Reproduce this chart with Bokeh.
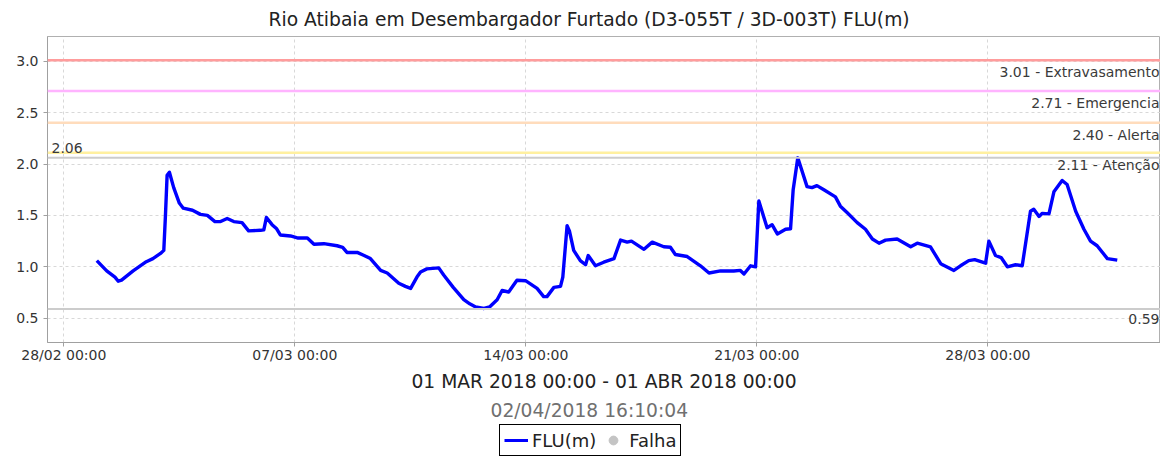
import pandas as pd
from bokeh.plotting import figure
from bokeh.layouts import column
from bokeh.models import (Span, Label, FixedTicker, DatetimeTickFormatter, Range1d,
                          Title, Legend, LegendItem, NumeralTickFormatter)
from bokeh.embed import file_html
from bokeh.resources import INLINE

# ---------------- data ----------------
start_date = "2018-03-01"
# days since 01/03/2018 00:00
days = [0.00, 0.30, 0.55, 0.65, 0.75, 1.10, 1.50, 1.70, 1.93, 2.03, 2.08, 2.13, 2.20, 2.33, 2.50,
        2.62, 2.90, 3.14, 3.35, 3.58, 3.75, 3.95, 4.15, 4.40, 4.60, 4.96, 5.06, 5.14, 5.31, 5.45,
        5.56, 5.87, 6.10, 6.38, 6.58, 6.88, 7.28, 7.45, 7.58, 7.89, 8.10, 8.29, 8.60, 8.80, 9.15,
        9.35, 9.51, 9.70, 9.81, 10.00, 10.36, 10.51, 10.80, 11.12, 11.30, 11.48, 11.73, 11.90, 12.13, 12.28,
        12.48, 12.73, 12.99, 13.34, 13.54, 13.64, 13.85, 14.05, 14.12, 14.25, 14.32, 14.45, 14.65, 14.81, 14.89,
        15.11, 15.36, 15.67, 15.87, 16.07, 16.20, 16.58, 16.83, 17.18, 17.38, 17.53, 17.89, 18.29, 18.55, 18.90,
        19.30, 19.50, 19.61, 19.81, 19.96, 20.06, 20.31, 20.46, 20.62, 20.87, 21.02, 21.10, 21.24, 21.52, 21.67,
        21.82, 22.03, 22.38, 22.53, 22.74, 23.04, 23.29, 23.50, 23.70, 23.90, 24.25, 24.66, 24.86, 25.26, 25.57,
        25.97, 26.17, 26.42, 26.60, 26.93, 27.03, 27.23, 27.40, 27.59, 27.84, 28.04, 28.29, 28.39, 28.55, 28.65,
        28.85, 29.00, 29.25, 29.40, 29.66, 29.91, 30.11, 30.31, 30.62, 30.92]
flu_m = [1.06, 0.96, 0.90, 0.86, 0.87, 0.96, 1.05, 1.08, 1.13, 1.16, 1.50, 1.89, 1.92, 1.77, 1.62,
         1.57, 1.55, 1.51, 1.50, 1.44, 1.44, 1.47, 1.44, 1.43, 1.35, 1.355, 1.36, 1.48, 1.41, 1.37,
         1.31, 1.30, 1.28, 1.28, 1.22, 1.225, 1.205, 1.19, 1.14, 1.14, 1.11, 1.08, 0.965, 0.94, 0.84,
         0.81, 0.79, 0.90, 0.95, 0.98, 0.99, 0.92, 0.80, 0.68, 0.64, 0.61, 0.595, 0.61, 0.68, 0.77,
         0.755, 0.87, 0.865, 0.79, 0.71, 0.71, 0.80, 0.81, 0.90, 1.40, 1.35, 1.16, 1.06, 1.02, 1.11,
         1.01, 1.045, 1.08, 1.26, 1.24, 1.25, 1.17, 1.24, 1.195, 1.19, 1.12, 1.10, 1.01, 0.94, 0.96,
         0.96, 0.965, 0.93, 1.01, 1.00, 1.64, 1.38, 1.41, 1.32, 1.365, 1.37, 1.75, 2.06, 1.78, 1.77,
         1.79, 1.75, 1.68, 1.59, 1.525, 1.43, 1.365, 1.27, 1.23, 1.26, 1.27, 1.195, 1.23, 1.195, 1.03,
         0.965, 1.01, 1.06, 1.07, 1.035, 1.25, 1.11, 1.09, 1.00, 1.02, 1.01, 1.54, 1.56, 1.49, 1.52,
         1.515, 1.73, 1.84, 1.80, 1.54, 1.365, 1.25, 1.205, 1.08, 1.065]

threshold_values = [3.01, 2.71, 2.40, 2.11]
threshold_names = ["Extravasamento", "Emergencia", "Alerta", "Atenção"]
threshold_colors = ["#ff9c9c", "#ffb4ff", "#ffdcbc", "#fff0a0"]
max_value = 2.06
min_value = 0.59

x_tick_dates = ["2018-02-28", "2018-03-07", "2018-03-14", "2018-03-21", "2018-03-28"]
y_ticks = [0.5, 1.0, 1.5, 2.0, 2.5, 3.0]

title_text = "Rio Atibaia em Desembargador Furtado (D3-055T / 3D-003T) FLU(m)"
period_text = "01 MAR 2018 00:00 - 01 ABR 2018 00:00"
stamp_text = "02/04/2018 16:10:04"
legend_labels = ["FLU(m)", "Falha"]

# ---------------- helpers ----------------
EPOCH = pd.Timestamp("1970-01-01")


def to_ms(ts):
    return (pd.Timestamp(ts) - EPOCH) / pd.Timedelta(milliseconds=1)


t0 = pd.Timestamp(start_date)
times = [t0 + pd.Timedelta(days=d) for d in days]
x_start = to_ms(t0 - pd.Timedelta(days=1.494))
x_end = to_ms(t0 + pd.Timedelta(days=32.23))

FONT = "DejaVu Sans"
LINE_COLOR = "#0000ff"
FALHA_COLOR = "#c4c4c4"

p = figure(width=1160, height=424, x_axis_type="datetime", output_backend="svg",
           toolbar_location=None, min_border_left=47, min_border_right=0,
           min_border_top=36, min_border_bottom=82,
           x_range=Range1d(x_start, x_end), y_range=Range1d(0.264, 3.240))

p.title.text = title_text
p.title.align = "left"
p.title.offset = 221
p.title.text_font = FONT
p.title.text_font_size = "18.7px"
p.title.text_font_style = "normal"
p.title.text_color = "#222222"
p.title.standoff = 13

p.outline_line_color = "#b0b0b0"
p.outline_line_width = 1
p.background_fill_color = "white"
p.border_fill_color = "white"

# grids
for g in (p.xgrid, p.ygrid):
    g.grid_line_color = "#d8d8d8"
    g.grid_line_dash = "3 3"
    g.grid_line_width = 1

# axes
p.yaxis.ticker = FixedTicker(ticks=y_ticks)
p.yaxis.formatter = NumeralTickFormatter(format="0.0")
p.xaxis.ticker = FixedTicker(ticks=[to_ms(d) for d in x_tick_dates])
fmt = "%d/%m %H:%M"
p.xaxis.formatter = DatetimeTickFormatter(days=fmt, months=fmt, hours=fmt, years=fmt,
                                          hourmin=fmt, minutes=fmt)
for ax in (p.xaxis, p.yaxis):
    ax.axis_line_color = "#a0a0a0"
    ax.major_tick_line_color = "#a0a0a0"
    ax.major_tick_out = 4
    ax.major_tick_in = 0
    ax.minor_tick_out = 0
    ax.minor_tick_in = 0
    ax.major_label_text_font = FONT
    ax.major_label_text_font_size = "14px"
    ax.major_label_text_color = "#333333"
p.xaxis.major_label_standoff = 0
p.yaxis.major_label_standoff = 5

p.xaxis.axis_label = period_text
p.xaxis.axis_label_text_font = FONT
p.xaxis.axis_label_text_font_size = "18.7px"
p.xaxis.axis_label_text_font_style = "normal"
p.xaxis.axis_label_text_color = "#222222"
p.xaxis.axis_label_standoff = 5

# threshold lines + labels
for v, name, c in zip(threshold_values, threshold_names, threshold_colors):
    p.add_layout(Span(location=v, dimension="width", line_color=c, line_width=2.5))
    p.add_layout(Label(x=x_end, y=v, text=f"{v:.2f} - {name}", text_align="right",
                       text_baseline="top", x_offset=-1, y_offset=-4,
                       text_font=FONT, text_font_size="14px", text_color="#3a3a3a"))

p.add_layout(Span(location=max_value, dimension="width", line_color="#cccccc", line_width=2))
p.add_layout(Label(x=x_start, y=max_value, text=f"{max_value:.2f}", text_align="left",
                   text_baseline="bottom", x_offset=4, y_offset=5,
                   text_font=FONT, text_font_size="14px", text_color="#3a3a3a"))
p.add_layout(Span(location=min_value, dimension="width", line_color="#cccccc", line_width=2))
p.add_layout(Label(x=x_end, y=min_value, text=f"{min_value:.2f}", text_align="right",
                   text_baseline="top", x_offset=-1, y_offset=-5,
                   text_font=FONT, text_font_size="14px", text_color="#3a3a3a"))

# series
p.line(x=times, y=flu_m, line_color=LINE_COLOR, line_width=3.4, line_join="round")

# timestamp
stamp = Title(text=stamp_text, align="left", offset=443, text_font=FONT,
              text_font_size="18.7px", text_font_style="normal", text_color="#707070",
              standoff=7)
p.add_layout(stamp, "below")

# ---------------- legend strip ----------------
lg = figure(width=1160, height=34, output_backend="svg", toolbar_location=None,
            x_range=Range1d(0, 1), y_range=Range1d(0, 1),
            min_border_left=0, min_border_right=0, min_border_top=0, min_border_bottom=0)
lg.axis.visible = False
lg.grid.visible = False
lg.outline_line_color = None
r_line = lg.line(x=[float("nan")], y=[float("nan")], line_color=LINE_COLOR, line_width=3)
r_falha = lg.scatter(x=[float("nan")], y=[float("nan")], marker="circle", size=11,
                     fill_color=FALHA_COLOR, line_color=FALHA_COLOR)
legend = Legend(items=[LegendItem(label=legend_labels[0], renderers=[r_line]),
                       LegendItem(label=legend_labels[1], renderers=[r_falha])],
                orientation="horizontal", location=(452, 2))
legend.border_line_color = "black"
legend.border_line_width = 1
legend.border_line_alpha = 1
legend.background_fill_color = "white"
legend.label_text_font = FONT
legend.label_text_font_size = "18px"
legend.label_text_color = "#222222"
legend.glyph_width = 24
legend.glyph_height = 22
legend.label_standoff = 4
legend.spacing = 5
legend.padding = 4
legend.margin = 0
lg.add_layout(legend)

layout = column(p, lg, spacing=0)
open("out.html", "w").write(file_html(layout, INLINE))
